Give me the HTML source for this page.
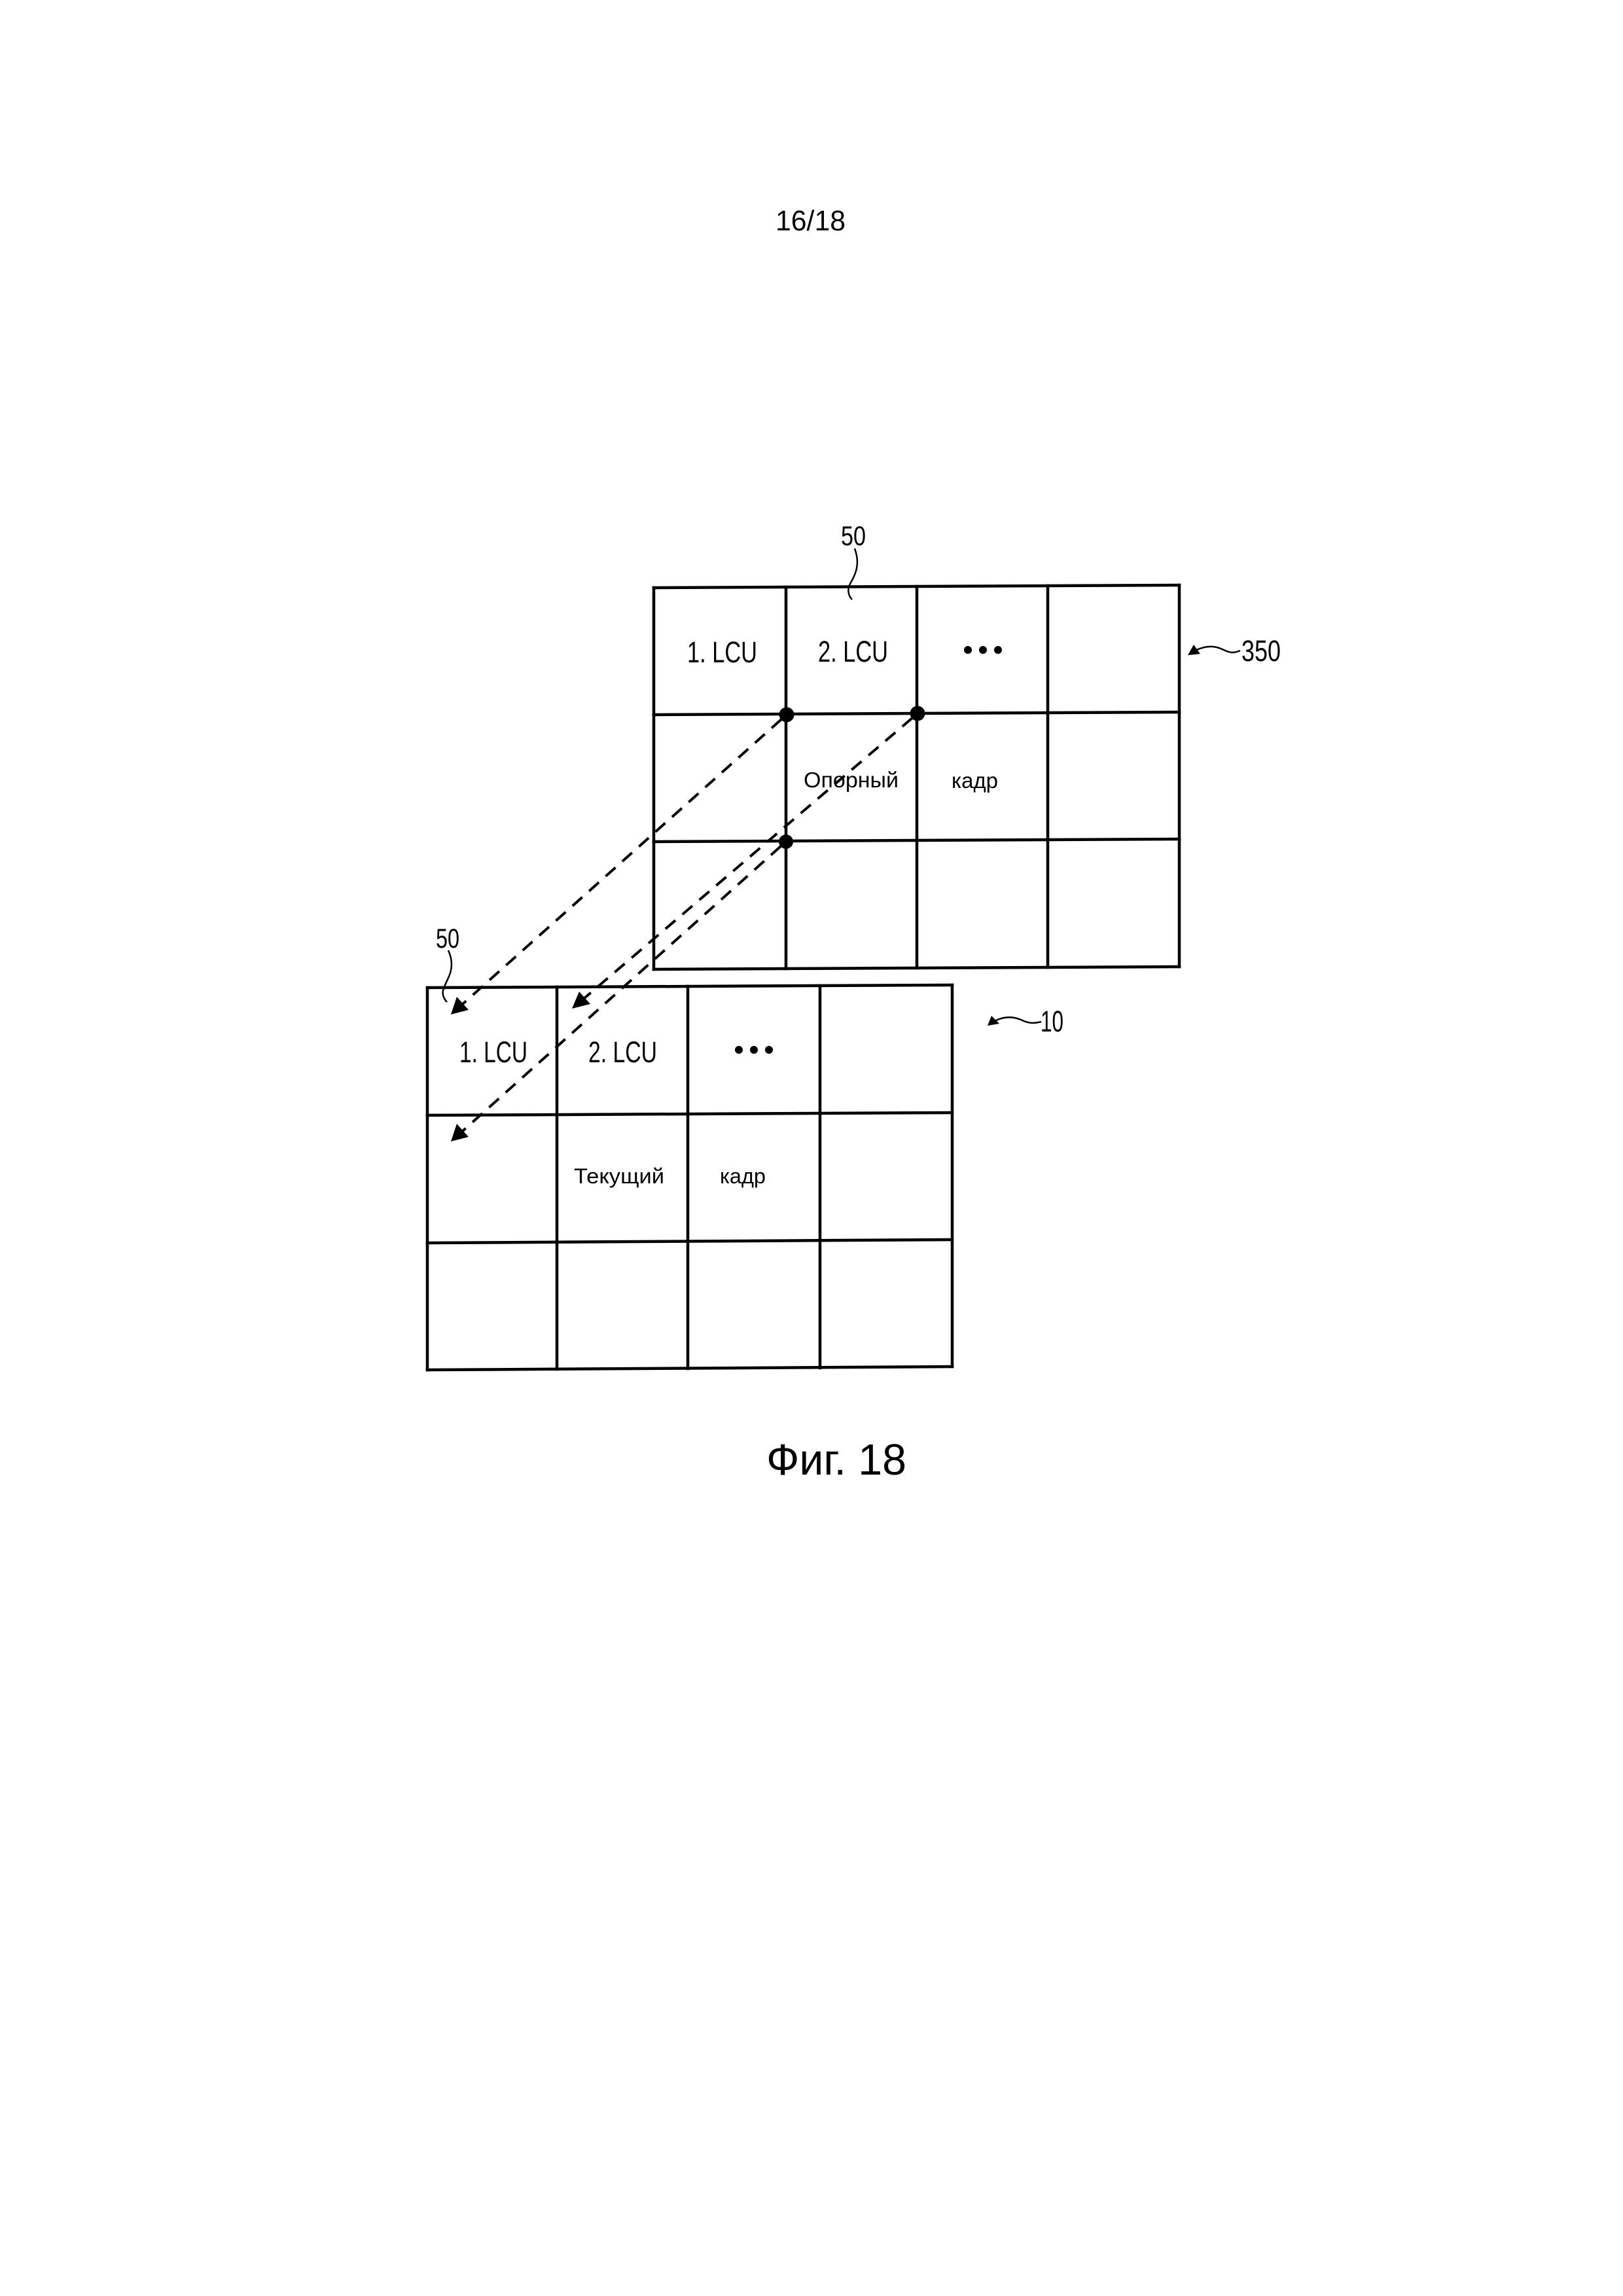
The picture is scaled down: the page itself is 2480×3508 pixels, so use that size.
<!DOCTYPE html>
<html>
<head>
<meta charset="utf-8">
<style>
  html, body { margin: 0; padding: 0; background: #fff; }
  svg { display: block; }
  text { font-family: "Liberation Sans", "DejaVu Sans", sans-serif; fill: #000; }
</style>
</head>
<body>
<svg width="2480" height="3508" viewBox="0 0 2480 3508" xmlns="http://www.w3.org/2000/svg">
  <rect x="0" y="0" width="2480" height="3508" fill="#fff"/>

  <!-- page number -->
  <text x="1185" y="352" font-size="44" textLength="107" lengthAdjust="spacingAndGlyphs">16/18</text>

  <!-- ===== Top grid (reference frame 350) ===== -->
  <g stroke="#000" stroke-width="4.5" fill="none" stroke-linecap="square">
    <line x1="999" y1="898" x2="1802" y2="894"/>
    <line x1="999" y1="1092" x2="1802" y2="1088"/>
    <line x1="999" y1="1286" x2="1802" y2="1282"/>
    <line x1="999" y1="1481" x2="1802" y2="1477"/>
    <line x1="999" y1="898" x2="999" y2="1481"/>
    <line x1="1201" y1="897" x2="1201" y2="1480"/>
    <line x1="1401" y1="896" x2="1401" y2="1479"/>
    <line x1="1601" y1="895" x2="1601" y2="1478"/>
    <line x1="1802" y1="894" x2="1802" y2="1477"/>
  </g>

  <text x="1050" y="1012" font-size="45" textLength="107" lengthAdjust="spacingAndGlyphs">1. LCU</text>
  <text x="1250" y="1011" font-size="45" textLength="107" lengthAdjust="spacingAndGlyphs">2. LCU</text>
  <circle cx="1479" cy="993" r="6" fill="#000"/>
  <circle cx="1502" cy="993" r="6" fill="#000"/>
  <circle cx="1525" cy="993" r="6" fill="#000"/>
  <text x="1228" y="1203" font-size="33" textLength="145" lengthAdjust="spacingAndGlyphs">Опорный</text>
  <text x="1454" y="1204" font-size="33" textLength="71" lengthAdjust="spacingAndGlyphs">кадр</text>

  <!-- label 50 (top) -->
  <text x="1285" y="833" font-size="42" textLength="38" lengthAdjust="spacingAndGlyphs">50</text>
  <path d="M1306,838 C1312,855 1312,870 1300,890 C1294,900 1296,910 1302,916" stroke="#000" stroke-width="2.5" fill="none"/>

  <!-- label 350 -->
  <text x="1897" y="1010" font-size="45" textLength="60" lengthAdjust="spacingAndGlyphs">350</text>
  <path d="M1826,994 C1845,985 1858,987 1870,993 C1880,998 1886,998 1895,994" stroke="#000" stroke-width="2.5" fill="none"/>
  <polygon points="1815,1001 1824,985 1834,999" fill="#000"/>

  <!-- ===== Bottom grid (current frame 10) ===== -->
  <g stroke="#000" stroke-width="4.5" fill="none" stroke-linecap="square">
    <line x1="653" y1="1509" x2="1455" y2="1505"/>
    <line x1="653" y1="1704" x2="1455" y2="1700"/>
    <line x1="653" y1="1899" x2="1455" y2="1894"/>
    <line x1="653" y1="2093" x2="1455" y2="2088"/>
    <line x1="653" y1="1509" x2="653" y2="2093"/>
    <line x1="851" y1="1508" x2="851" y2="2092"/>
    <line x1="1051" y1="1507" x2="1051" y2="2091"/>
    <line x1="1253" y1="1506" x2="1253" y2="2090"/>
    <line x1="1455" y1="1505" x2="1455" y2="2088"/>
  </g>

  <text x="702" y="1623" font-size="45" textLength="104" lengthAdjust="spacingAndGlyphs">1. LCU</text>
  <text x="899" y="1623" font-size="45" textLength="105" lengthAdjust="spacingAndGlyphs">2. LCU</text>
  <circle cx="1129" cy="1604" r="6" fill="#000"/>
  <circle cx="1152" cy="1604" r="6" fill="#000"/>
  <circle cx="1175" cy="1604" r="6" fill="#000"/>
  <text x="877" y="1808" font-size="32" textLength="138" lengthAdjust="spacingAndGlyphs">Текущий</text>
  <text x="1100" y="1808" font-size="32" textLength="70" lengthAdjust="spacingAndGlyphs">кадр</text>

  <!-- label 50 (bottom) -->
  <text x="666" y="1448" font-size="42" textLength="36" lengthAdjust="spacingAndGlyphs">50</text>
  <path d="M685,1452 C691,1465 692,1478 686,1492 C680,1505 675,1515 677,1520 C678,1525 680,1528 683,1531" stroke="#000" stroke-width="2.5" fill="none"/>

  <!-- label 10 -->
  <text x="1590" y="1576" font-size="45" textLength="35" lengthAdjust="spacingAndGlyphs">10</text>
  <path d="M1522,1559 C1535,1553 1548,1553 1560,1558 C1572,1564 1580,1564 1591,1561" stroke="#000" stroke-width="2.5" fill="none"/>
  <polygon points="1509,1567 1515,1552 1527,1564" fill="#000"/>

  <!-- ===== Dashed motion arrows ===== -->
  <g stroke="#000" stroke-width="4" fill="none" stroke-dasharray="20,14">
    <line x1="1194" y1="1099" x2="707" y2="1534"/>
    <line x1="1394" y1="1097" x2="893" y2="1525"/>
    <line x1="1193" y1="1293" x2="707" y2="1728"/>
  </g>
  <!-- arrowheads -->
  <polygon points="689,1550 698,1523 716,1543" fill="#000"/>
  <polygon points="874,1541 885,1515 902,1534" fill="#000"/>
  <polygon points="689,1744 698,1717 716,1737" fill="#000"/>

  <!-- junction dots -->
  <circle cx="1202" cy="1092" r="11.5" fill="#000"/>
  <circle cx="1402" cy="1090" r="11.5" fill="#000"/>
  <circle cx="1201" cy="1286" r="11" fill="#000"/>

  <!-- caption -->
  <text x="1171" y="2253" font-size="67" textLength="214" lengthAdjust="spacingAndGlyphs">Фиг. 18</text>
</svg>
</body>
</html>
